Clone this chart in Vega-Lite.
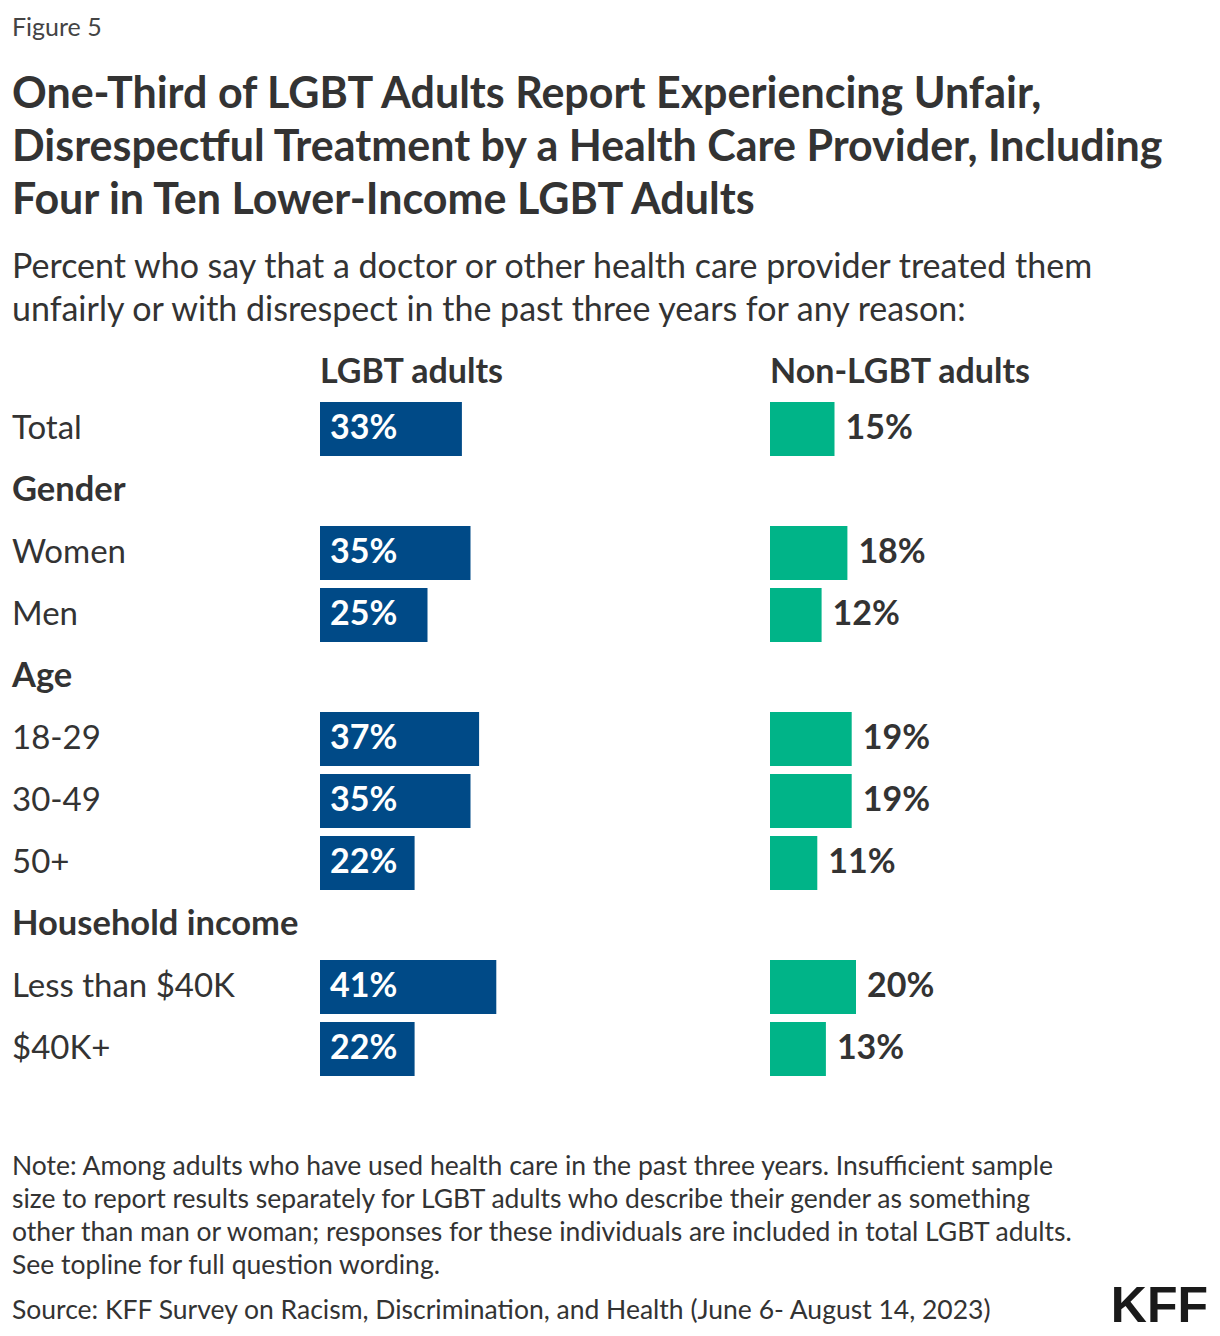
{
  "$schema": "https://vega.github.io/schema/vega-lite/v6.json",
  "padding": {"left": 12, "top": 16, "right": 10, "bottom": 0},
  "background": "white",
  "config": {
    "font": "Lato",
    "view": {"stroke": null},
    "axis": {"grid": false}
  },
  "datasets": {
    "rows": [
      {"group": "Total", "lgbt": 0.33, "non": 0.15},
      {"group": "Gender", "lgbt": null, "non": null},
      {"group": "Women", "lgbt": 0.35, "non": 0.18},
      {"group": "Men", "lgbt": 0.25, "non": 0.12},
      {"group": "Age", "lgbt": null, "non": null},
      {"group": "18-29", "lgbt": 0.37, "non": 0.19},
      {"group": "30-49", "lgbt": 0.35, "non": 0.19},
      {"group": "50+", "lgbt": 0.22, "non": 0.11},
      {"group": "Household income", "lgbt": null, "non": null},
      {"group": "Less than $40K", "lgbt": 0.41, "non": 0.20},
      {"group": "$40K+", "lgbt": 0.22, "non": 0.13}
    ],
    "notes": [
      {"kind": "note", "text": "Note: Among adults who have used health care in the past three years. Insufficient sample\nsize to report results separately for LGBT adults who describe their gender as something\nother than man or woman; responses for these individuals are included in total LGBT adults.\nSee topline for full question wording."},
      {"kind": "source", "text": "Source: KFF Survey on Racism, Discrimination, and Health (June 6- August 14, 2023)"},
      {"kind": "logo", "text": "KFF"}
    ]
  },
  "title": {
    "text": "Figure 5",
    "anchor": "start",
    "frame": "bounds",
    "fontSize": 25,
    "fontWeight": "normal",
    "color": "#444",
    "offset": 33
  },
  "spacing": 74,
  "vconcat": [
    {
      "title": {
        "text": [
          "One-Third of LGBT Adults Report Experiencing Unfair,",
          "Disrespectful Treatment by a Health Care Provider, Including",
          "Four in Ten Lower-Income LGBT Adults"
        ],
        "subtitle": [
          "Percent who say that a doctor or other health care provider treated them",
          "unfairly or with disrespect in the past three years for any reason:"
        ],
        "anchor": "start",
        "frame": "bounds",
        "fontSize": 43,
        "lineHeight": 53,
        "fontWeight": "bold",
        "color": "#333",
        "subtitleFont": "Lato",
        "subtitleFontSize": 34,
        "subtitleLineHeight": 43,
        "subtitleColor": "#333",
        "subtitlePadding": 28,
        "offset": 28
      },
      "spacing": 20,
      "hconcat": [
        {
          "width": 288,
          "height": 682,
          "data": {"name": "rows"},
          "encoding": {
            "y": {
              "field": "group",
              "type": "nominal",
              "scale": {
                "domain": ["Total", "Gender", "Women", "Men", "Age", "18-29", "30-49", "50+", "Household income", "Less than $40K", "$40K+"],
                "paddingInner": 0.13,
                "paddingOuter": 0.065
              },
              "axis": null
            },
            "x": {"datum": 0, "type": "quantitative", "scale": {"domain": [0, 1]}, "axis": null},
            "text": {"field": "group", "type": "nominal"}
          },
          "layer": [
            {
              "transform": [{"filter": "isValid(datum.lgbt)"}],
              "mark": {"type": "text", "align": "left", "baseline": "middle", "fontSize": 33, "color": "#333"}
            },
            {
              "transform": [{"filter": "!isValid(datum.lgbt)"}],
              "mark": {"type": "text", "align": "left", "baseline": "middle", "fontSize": 34.5, "fontWeight": "bold", "color": "#333"}
            }
          ]
        },
        {
          "width": 430,
          "height": 682,
          "title": {"text": "LGBT adults", "anchor": "start", "fontSize": 34, "fontWeight": "bold", "color": "#333", "offset": 8},
          "data": {"name": "rows"},
          "encoding": {
            "y": {
              "field": "group",
              "type": "nominal",
              "scale": {
                "domain": ["Total", "Gender", "Women", "Men", "Age", "18-29", "30-49", "50+", "Household income", "Less than $40K", "$40K+"],
                "paddingInner": 0.13,
                "paddingOuter": 0.065
              },
              "axis": null
            }
          },
          "layer": [
            {
              "mark": {"type": "bar", "color": "#004a87"},
              "encoding": {
                "x": {"field": "lgbt", "type": "quantitative", "scale": {"domain": [0, 1]}, "axis": null}
              }
            },
            {
              "transform": [{"filter": "isValid(datum.lgbt)"}],
              "mark": {"type": "text", "align": "left", "dx": 10, "color": "white", "fontSize": 34, "fontWeight": "bold"},
              "encoding": {
                "x": {"datum": 0, "type": "quantitative"},
                "text": {"field": "lgbt", "type": "quantitative", "format": ".0%"}
              }
            }
          ]
        },
        {
          "width": 430,
          "height": 682,
          "title": {"text": "Non-LGBT adults", "anchor": "start", "fontSize": 34, "fontWeight": "bold", "color": "#333", "offset": 8},
          "data": {"name": "rows"},
          "encoding": {
            "y": {
              "field": "group",
              "type": "nominal",
              "scale": {
                "domain": ["Total", "Gender", "Women", "Men", "Age", "18-29", "30-49", "50+", "Household income", "Less than $40K", "$40K+"],
                "paddingInner": 0.13,
                "paddingOuter": 0.065
              },
              "axis": null
            }
          },
          "layer": [
            {
              "mark": {"type": "bar", "color": "#00b488"},
              "encoding": {
                "x": {"field": "non", "type": "quantitative", "scale": {"domain": [0, 1]}, "axis": null}
              }
            },
            {
              "transform": [{"filter": "isValid(datum.non)"}],
              "mark": {"type": "text", "align": "left", "dx": 11, "color": "#333", "fontSize": 34, "fontWeight": "bold"},
              "encoding": {
                "x": {"field": "non", "type": "quantitative"},
                "text": {"field": "non", "type": "quantitative", "format": ".0%"}
              }
            }
          ]
        }
      ]
    },
    {
      "width": 1196,
      "height": 165,
      "data": {"name": "notes"},
      "layer": [
        {
          "transform": [{"filter": "datum.kind === 'note'"}],
          "mark": {"type": "text", "align": "left", "baseline": "top", "lineBreak": "\n", "lineHeight": 33, "fontSize": 26.5, "color": "#333"},
          "encoding": {
            "x": {"datum": 0, "type": "quantitative", "scale": {"domain": [0, 1]}, "axis": null},
            "y": {"datum": 1, "type": "quantitative", "scale": {"domain": [0, 1]}, "axis": null},
            "text": {"field": "text", "type": "nominal"}
          }
        },
        {
          "transform": [{"filter": "datum.kind === 'source'"}],
          "mark": {"type": "text", "align": "left", "baseline": "alphabetic", "fontSize": 26.5, "color": "#333"},
          "encoding": {
            "x": {"datum": 0, "type": "quantitative"},
            "y": {"datum": 0, "type": "quantitative"},
            "text": {"field": "text", "type": "nominal"}
          }
        },
        {
          "transform": [{"filter": "datum.kind === 'logo'"}],
          "mark": {"type": "text", "align": "right", "baseline": "alphabetic", "dy": 3, "fontSize": 50, "fontWeight": "bold", "font": "Liberation Sans", "color": "#1a1a1a"},
          "encoding": {
            "x": {"datum": 1, "type": "quantitative"},
            "y": {"datum": 0, "type": "quantitative"},
            "text": {"field": "text", "type": "nominal"}
          }
        }
      ]
    }
  ]
}
